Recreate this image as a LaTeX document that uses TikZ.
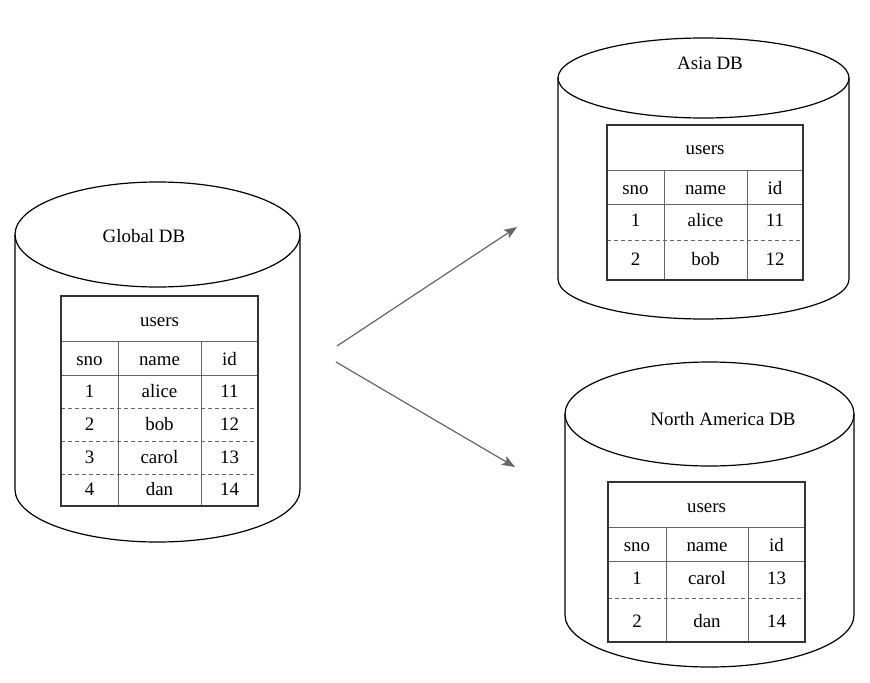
\documentclass[tikz,border=0pt]{standalone}
\usepackage{fontspec}
\setmainfont{Liberation Serif}
\usetikzlibrary{arrows.meta}
\definecolor{linegray}{HTML}{666666}
\definecolor{bordergray}{HTML}{333333}
\tikzset{
  cyl/.style={draw=black, line width=1.2bp},
  tblout/.style={draw=bordergray, line width=1.2bp},
  tblin/.style={draw=linegray, line width=1bp},
  tbldash/.style={draw=linegray, line width=1bp, dash pattern=on 4bp off 3bp},
  txt/.style={font=\fontsize{19}{22}\selectfont, inner sep=0pt, anchor=base},
  flow/.style={draw=linegray, line width=1.2bp, -{Stealth[length=13bp,width=10bp,inset=3bp]}}
}
\begin{document}
\begin{tikzpicture}[x=1bp,y=1bp]
\useasboundingbox (0,0) rectangle (870,-683);
\fill[white] (0,0) rectangle (870,-683);

% ---------- Global DB ----------
\draw[cyl] (15,-234.5) -- (15,-489.5) arc[start angle=180,end angle=360,x radius=142.5,y radius=52.5] -- (300,-234.5);
\draw[cyl] (157.5,-234.5) ellipse[x radius=142.5,y radius=52.5];
\node[txt] (gdb) at (144,-242) {Global DB};
\draw[tblin] (61,-341) -- (258,-341);
\draw[tblin] (61,-375) -- (258,-375);
\draw[tbldash] (61,-408) -- (258,-408);
\draw[tbldash] (61,-441) -- (258,-441);
\draw[tbldash] (61,-474) -- (258,-474);
\draw[tblin] (118,-341) -- (118,-506);
\draw[tblin] (201,-341) -- (201,-506);
\draw[tblout] (61,-296) rectangle (258,-506);
\node[txt] (gusers) at (159.5,-326) {users};
\node[txt] (gsno) at (89.5,-365) {sno};
\node[txt] (gname) at (159.5,-365) {name};
\node[txt] (gid) at (229.5,-365) {id};
\node[txt] (g1a) at (89.5,-397) {1};
\node[txt] (g1b) at (159.5,-397) {alice};
\node[txt] (g1c) at (229.5,-397) {11};
\node[txt] (g2a) at (89.5,-430) {2};
\node[txt] (g2b) at (159.5,-430) {bob};
\node[txt] (g2c) at (229.5,-430) {12};
\node[txt] (g3a) at (89.5,-463) {3};
\node[txt] (g3b) at (159.5,-463) {carol};
\node[txt] (g3c) at (229.5,-463) {13};
\node[txt] (g4a) at (89.5,-495) {4};
\node[txt] (g4b) at (159.5,-495) {dan};
\node[txt] (g4c) at (229.5,-495) {14};

% ---------- Asia DB ----------
\draw[cyl] (558,-78) -- (558,-279) arc[start angle=180,end angle=360,x radius=145.5,y radius=40] -- (849,-78);
\draw[cyl] (703.5,-78) ellipse[x radius=145.5,y radius=40];
\node[txt] (adb) at (710,-70) {Asia DB};
\draw[tblin] (607,-170) -- (803,-170);
\draw[tblin] (607,-204) -- (803,-204);
\draw[tbldash] (607,-240) -- (803,-240);
\draw[tblin] (664,-170) -- (664,-280);
\draw[tblin] (747,-170) -- (747,-280);
\draw[tblout] (607,-125) rectangle (803,-280);
\node[txt] (ausers) at (705,-155) {users};
\node[txt] (asno) at (635.5,-194) {sno};
\node[txt] (aname) at (705.5,-194) {name};
\node[txt] (aid) at (775,-194) {id};
\node[txt] (a1a) at (635.5,-226) {1};
\node[txt] (a1b) at (705.5,-226) {alice};
\node[txt] (a1c) at (775,-226) {11};
\node[txt] (a2a) at (635.5,-265) {2};
\node[txt] (a2b) at (705.5,-265) {bob};
\node[txt] (a2c) at (775,-265) {12};

% ---------- North America DB ----------
\draw[cyl] (565,-414) -- (565,-615) arc[start angle=180,end angle=360,x radius=144.5,y radius=52] -- (854,-414);
\draw[cyl] (709.5,-414) ellipse[x radius=144.5,y radius=52];
\node[txt] (nadb) at (723,-425) {North America DB};
\draw[tblin] (608,-527) -- (805,-527);
\draw[tblin] (608,-561) -- (805,-561);
\draw[tbldash] (608,-598) -- (805,-598);
\draw[tblin] (666,-527) -- (666,-642);
\draw[tblin] (748,-527) -- (748,-642);
\draw[tblout] (608,-482) rectangle (805,-642);
\node[txt] (nusers) at (706.5,-512) {users};
\node[txt] (nsno) at (637,-551) {sno};
\node[txt] (nname) at (707,-551) {name};
\node[txt] (nid) at (776.5,-551) {id};
\node[txt] (n1a) at (637,-584) {1};
\node[txt] (n1b) at (707,-584) {carol};
\node[txt] (n1c) at (776.5,-584) {13};
\node[txt] (n2a) at (637,-627) {2};
\node[txt] (n2b) at (707,-627) {dan};
\node[txt] (n2c) at (776.5,-627) {14};

% ---------- arrows ----------
\coordinate (s1) at (337,-346);
\coordinate (e1) at (517,-227);
\coordinate (s2) at (336,-362);
\coordinate (e2) at (515,-467);
\draw[flow] (s1) -- (e1);
\draw[flow] (s2) -- (e2);
\end{tikzpicture}
\end{document}
